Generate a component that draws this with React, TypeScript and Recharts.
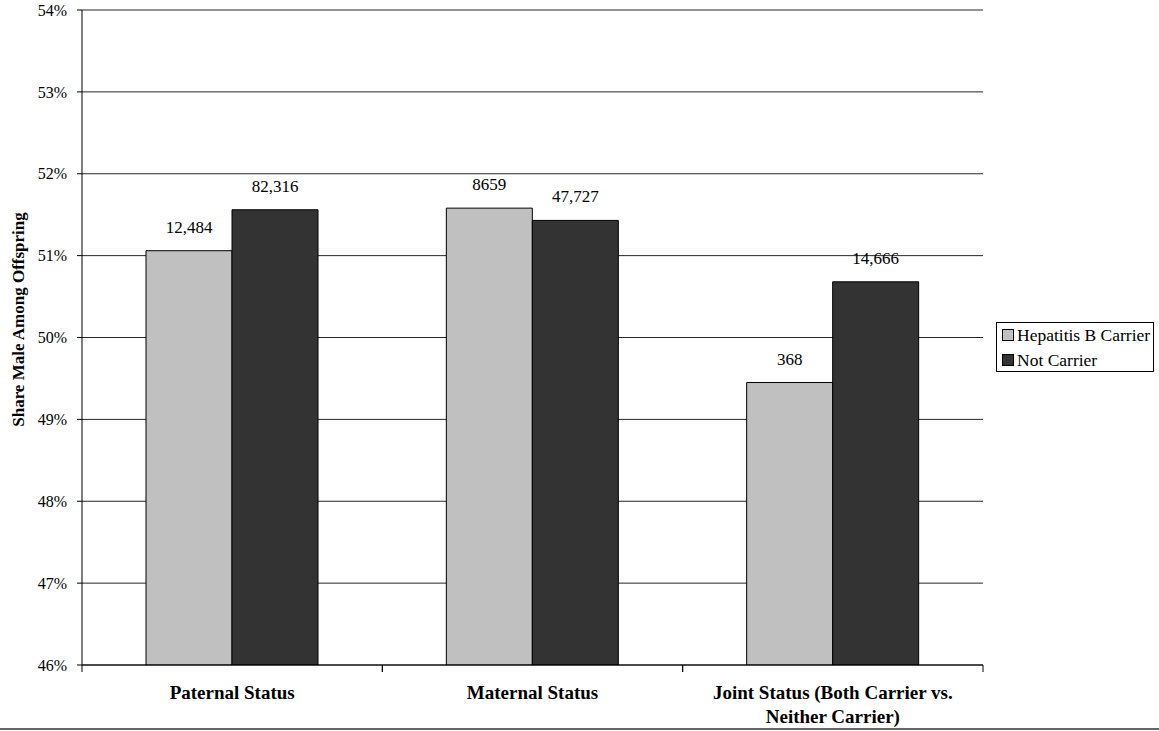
import { BarChart, Bar, XAxis, YAxis, CartesianGrid, Legend, LabelList } from "recharts";

const categories = ["Paternal Status", "Maternal Status", "Joint Status (Both Carrier vs. Neither Carrier)"];
const categoryLines = [["Paternal Status"], ["Maternal Status"], ["Joint Status (Both Carrier vs.", "Neither Carrier)"]];
const carrierShare = [51.06, 51.58, 49.45];
const notCarrierShare = [51.56, 51.43, 50.68];
const carrierCounts = ["12,484", "8659", "368"];
const notCarrierCounts = ["82,316", "47,727", "14,666"];
const yTicks = [46, 47, 48, 49, 50, 51, 52, 53, 54];

const data = categories.map((name, i) => ({
  name,
  carrier: carrierShare[i],
  notCarrier: notCarrierShare[i],
  carrierN: carrierCounts[i],
  notCarrierN: notCarrierCounts[i],
}));

const FONT = "'Liberation Serif', 'Times New Roman', serif";
const CARRIER = "#C0C0C0";
const NOT_CARRIER = "#333333";

// category label plus Excel-style tick marks at the band edges
function CategoryTick(props: any) {
  const { x, y, payload } = props;
  const lines = categoryLines[payload.index] || [payload.value];
  const half = payload.offset || 0;
  return (
    <g>
      <line x1={x - half} x2={x - half} y1={y} y2={y + 7} stroke="#000" />
      <line x1={x + half} x2={x + half} y1={y} y2={y + 7} stroke="#000" />
      <text x={x} y={y} textAnchor="middle" fontFamily={FONT} fontSize={19} fontWeight="bold" fill="#000">
        {lines.map((l: string, i: number) => (
          <tspan key={i} x={x} dy={i === 0 ? 34 : 24}>
            {l}
          </tspan>
        ))}
      </text>
    </g>
  );
}

function LegendBox() {
  const items = [
    { label: "Hepatitis B Carrier", color: CARRIER },
    { label: "Not Carrier", color: NOT_CARRIER },
  ];
  return (
    <div
      style={{
        border: "1px solid #000",
        width: 156,
        height: 48,
        boxSizing: "content-box",
        fontFamily: FONT,
        fontSize: 17.5,
        color: "#000",
        background: "#fff",
      }}
    >
      {items.map((it, i) => (
        <div key={it.label} style={{ display: "flex", alignItems: "center", height: i === 0 ? 24 : 26, paddingLeft: 5 }}>
          <span
            style={{
              display: "inline-block",
              width: 10,
              height: 10,
              border: "1px solid #000",
              background: it.color,
              marginRight: 3,
            }}
          />
          <span style={{ lineHeight: "20px" }}>{it.label}</span>
        </div>
      ))}
    </div>
  );
}

export default function App() {
  return (
    <div style={{ position: "absolute", left: 0, top: 0, width: 1159, height: 731, fontFamily: FONT, background: "#fff" }}>
      <BarChart
        width={1159}
        height={731}
        data={data}
        margin={{ top: 10, right: 176, left: 0, bottom: 0 }}
        barCategoryGap={64}
        barGap={0}
      >
        <XAxis
          dataKey="name"
          height={66}
          tickLine={false}
          tickSize={0}
          tickMargin={0}
          axisLine={{ stroke: "#000" }}
          interval={0}
          tick={<CategoryTick />}
        />
        <YAxis
          domain={[46, 54]}
          ticks={yTicks}
          width={82}
          tickSize={5}
          tickMargin={10}
          tickFormatter={(v) => `${v}%`}
          tick={{ fill: "#000", fontSize: 16, fontFamily: FONT }}
          axisLine={{ stroke: "#000" }}
          tickLine={{ stroke: "#000" }}
          allowDataOverflow
          label={{
            value: "Share Male Among Offspring",
            angle: -90,
            position: "center",
            dx: -23,
            dy: -18,
            fill: "#000",
            fontSize: 17,
            fontWeight: "bold",
            fontFamily: FONT,
          }}
        />
        <YAxis
          yAxisId="right"
          orientation="right"
          domain={[46, 54]}
          width={0}
          tick={false}
          tickLine={false}
          axisLine={{ stroke: "#000" }}
        />
        <CartesianGrid vertical={false} stroke="#000" strokeOpacity={0.85} />
        <Legend
          layout="vertical"
          align="center"
          verticalAlign="middle"
          wrapperStyle={{ left: 996, top: 322, width: 158 }}
          content={<LegendBox />}
        />
        <Bar dataKey="carrier" name="Hepatitis B Carrier" fill={CARRIER} stroke="#000" strokeWidth={1} isAnimationActive={false}>
          <LabelList dataKey="carrierN" position="top" offset={18} fill="#000" fontSize={17} fontFamily={FONT} />
        </Bar>
        <Bar dataKey="notCarrier" name="Not Carrier" fill={NOT_CARRIER} stroke="#000" strokeWidth={1} isAnimationActive={false}>
          <LabelList dataKey="notCarrierN" position="top" offset={18} fill="#000" fontSize={17} fontFamily={FONT} />
        </Bar>
      </BarChart>
      <div style={{ position: "absolute", left: 0, top: 728, width: 1159, height: 2, background: "#666" }} />
    </div>
  );
}
